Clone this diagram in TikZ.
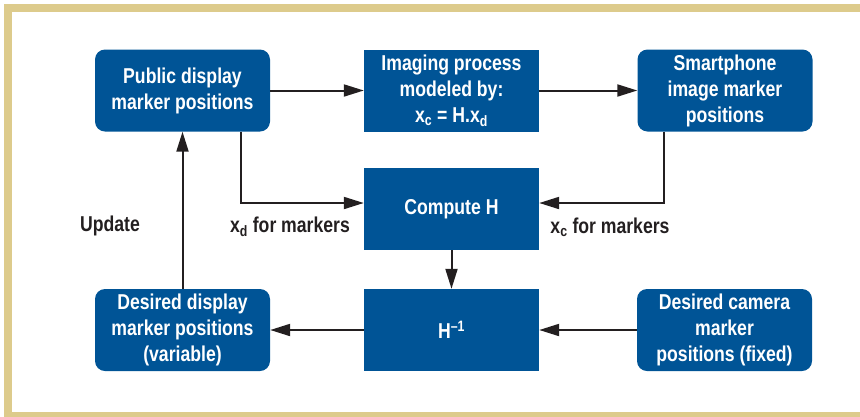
\documentclass[tikz,border=0pt]{standalone}
\usepackage{fontspec}
\setmainfont{Liberation Sans}[FakeStretch=0.82]
\usepackage{tikz}
\usetikzlibrary{arrows.meta}

\definecolor{framebeige}{RGB}{221,203,140}
\definecolor{boxblue}{RGB}{0,84,150}
\definecolor{ink}{RGB}{35,31,32}

\begin{document}
\begin{tikzpicture}[x=1pt,y=-1pt,
    block/.style={fill=boxblue,text=white,minimum width=175pt,minimum height=82pt,inner sep=0pt,align=center,font=\fontsize{21.5}{26}\selectfont\bfseries},
    rblock/.style={block,rounded corners=10pt},
    lab/.style={text=ink,font=\fontsize{21.5}{26}\selectfont\bfseries},
    flow/.style={draw=ink,line width=2pt,-{Triangle[length=20pt,width=12pt]}}]
    \useasboundingbox (0,0) rectangle (860,416);
    \draw [framebeige,line width=8pt] (8,8) rectangle (880,416);

    \node [rblock] (pub) at (182.5, 90.5) {Public display\\marker positions};
    \node [block] (img) at (451.5, 90.5) {Imaging process\\modeled by:\\x\textsubscript{c} = H.x\textsubscript{d}};
    \node [rblock] (smart) at (725, 90.5) {Smartphone\\image marker\\positions};
    \node [block] (comp) at (451.5, 209) {Compute H};
    \node [block] (hinv) at (451.5, 330) {H\textsuperscript{--1}};
    \node [rblock] (desd) at (182.5, 330) {Desired display\\marker positions\\(variable)};
    \node [rblock] (desc) at (724.5, 330) {Desired camera\\marker\\positions (fixed)};

    \node [lab] (xd) at (290, 227) {x\textsubscript{d} for markers};
    \node [lab] (xc) at (610, 227) {x\textsubscript{c} for markers};
    \node [lab] (upd) at (110, 226) {Update};

    \draw [flow] (pub) -- (img);
    \draw [flow] (img) -- (smart);
    \draw [flow] ([xshift=58pt]pub.south) |- ([yshift=6pt]comp.west);
    \draw [flow] ([xshift=-61pt]smart.south) |- ([yshift=6pt]comp.east);
    \draw [flow] (comp) -- (hinv);
    \draw [flow] (desc) -- (hinv);
    \draw [flow] (hinv) -- (desd);
    \draw [flow] (desd) -- (pub);
\end{tikzpicture}
\end{document}
